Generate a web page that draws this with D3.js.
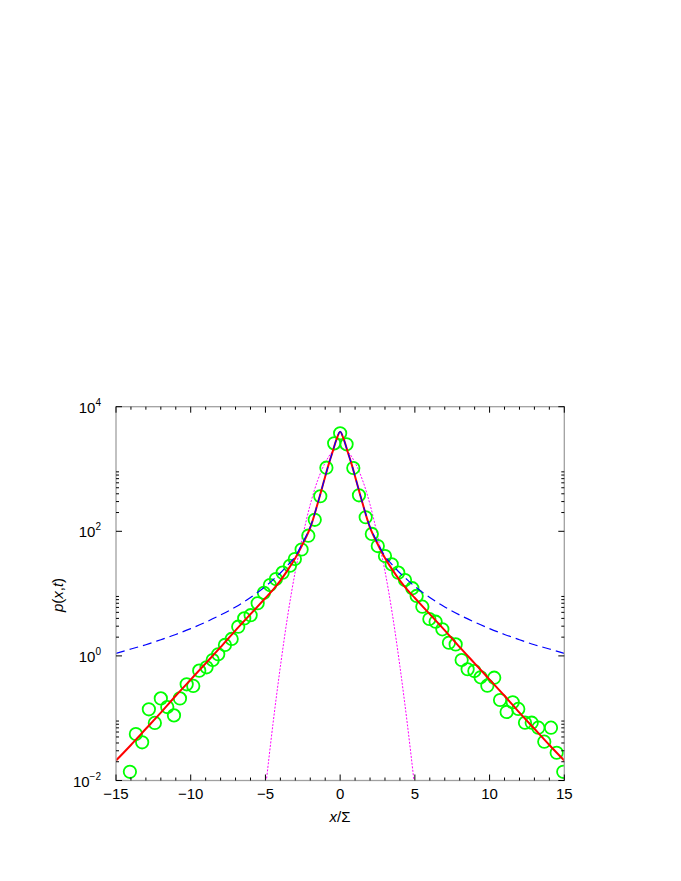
<!DOCTYPE html>
<html>
<head>
<meta charset="utf-8">
<script src="https://cdn.jsdelivr.net/npm/d3@7"></script>
<style>
html,body{margin:0;padding:0;background:#fff;}
svg{display:block;font-family:"Liberation Sans",Arial,Helvetica,sans-serif;}
</style>
</head>
<body>
<svg id="chart" width="681" height="881"></svg>
<script>
// ---- data ----
const xTicks = [-15, -10, -5, 0, 5, 10, 15];
const xTickLabels = ["\u221215", "\u221210", "\u22125", "0", "5", "10", "15"];
const yMajorExps = [-2, 0, 2, 4];
const yMinorDecades = [-2, 0, 2];

// green circles: simulation data
const dataX = [-14.07,-13.67,-13.25,-12.80,-12.40,-12.00,-11.57,-11.12,-10.72,-10.27,-9.83,-9.43,-8.94,-8.53,-8.16,-7.71,-7.26,-6.82,-6.42,-5.99,-5.52,-5.10,-4.70,-4.30,-3.85,-3.36,-3.03,-2.58,-2.13,-1.70,-1.33,-0.92,-0.40,0.00,0.43,0.88,1.26,1.71,2.12,2.52,3.00,3.45,3.89,4.34,4.83,5.12,5.50,5.97,6.39,6.84,7.28,7.73,8.13,8.53,8.98,9.40,9.85,10.31,10.70,11.14,11.55,11.92,12.37,12.82,13.26,13.66,14.11,14.49,14.93];
const dataP = [0.0138,0.0557,0.041,0.139,0.084,0.208,0.151,0.111,0.208,0.35,0.33,0.58,0.656,0.86,1.06,1.50,1.87,2.94,4.0,4.5,7.0,10.3,13.7,17.1,21.7,28,35.9,51,85,153,365,1050,2580,3740,2490,1037,378,168,90.6,58,40.1,29.5,21.7,16.5,12.2,9.16,6.17,3.91,3.54,2.67,1.63,1.53,0.86,0.61,0.571,0.453,0.333,0.447,0.196,0.126,0.18,0.141,0.0847,0.0847,0.0705,0.042,0.0705,0.0279,0.0138];

// red solid & blue dashed curves share the same abscissae
const curveX = [-15,-14,-13,-12,-11,-10,-9,-8,-7,-6,-5,-4.5,-4,-3.5,-3,-2.5,-2,-1.5,-1,-0.75,-0.5,-0.25,0,0.25,0.5,0.75,1,1.5,2,2.5,3,3.5,4,4.5,5,6,7,8,9,10,11,12,13,14,15];
const redP = [0.0209,0.0372,0.0676,0.123,0.229,0.417,0.759,1.38,2.57,4.68,8.51,11.5,16.2,24.0,37.2,63.1,115,282,759,1230,1905,2950,3980,2950,1905,1230,759,282,115,63.1,37.2,24.0,16.2,11.5,8.51,4.68,2.57,1.38,0.759,0.417,0.229,0.123,0.0676,0.0372,0.0209];
const blueP = [1.10,1.29,1.51,1.82,2.21,2.74,3.48,4.53,6.11,8.65,13.0,16.6,21.4,28.8,39.8,66.1,117,282,759,1230,1905,2950,3980,2950,1905,1230,759,282,117,66.1,39.8,28.8,21.4,16.6,13.0,8.65,6.11,4.53,3.48,2.74,2.21,1.82,1.51,1.29,1.10];

// magenta dotted gaussian
const gaussX = [-5,-4.5,-4,-3.5,-3,-2.5,-2,-1.5,-1,-0.5,0,0.5,1,1.5,2,2.5,3,3.5,4,4.5,5];
const gaussP = [0.00741,0.0794,0.676,4.57,22.9,85.1,269,661,1259,1905,2190,1905,1259,661,269,85.1,22.9,4.57,0.676,0.0794,0.00741];

// ---- drawing ----
const svg = d3.select("#chart");
const L = 116, R = 564.3, T = 406.7, B = 780.5;
const x = d3.scaleLinear().domain([-15, 15]).range([L, R]);
const y = d3.scaleLog().domain([1e-2, 1e4]).range([B, T]);

svg.append("defs").append("clipPath").attr("id", "clip")
  .append("rect").attr("x", L).attr("y", T).attr("width", R - L).attr("height", B - T);

const plot = svg.append("g").attr("clip-path", "url(#clip)");

const toPts = (xs, ps) => xs.map((v, i) => [v, ps[i]]);
const line = d3.line().x(d => x(d[0])).y(d => y(d[1])).curve(d3.curveCatmullRom.alpha(0.5));

// gaussian (magenta dotted)
plot.append("path").datum(toPts(gaussX, gaussP))
  .attr("d", line).attr("fill", "none")
  .attr("stroke", "#ff00ff").attr("stroke-width", 1).attr("stroke-dasharray", "2,1.5");

// circles
plot.selectAll("circle.d").data(toPts(dataX, dataP)).join("circle")
  .attr("class", "d")
  .attr("cx", d => x(d[0])).attr("cy", d => y(d[1])).attr("r", 6.2)
  .attr("fill", "none").attr("stroke", "#00ff00").attr("stroke-width", 1.8);

// red solid
plot.append("path").datum(toPts(curveX, redP))
  .attr("d", line).attr("fill", "none")
  .attr("stroke", "#ff0000").attr("stroke-width", 2);

// blue dashed
plot.append("path").datum(toPts(curveX, blueP))
  .attr("d", line).attr("fill", "none")
  .attr("stroke", "#0000ff").attr("stroke-width", 1.2).attr("stroke-dasharray", "9,5");

// frame
svg.append("rect").attr("x", L).attr("y", T).attr("width", R - L).attr("height", B - T)
  .attr("fill", "none").attr("stroke", "#a0a0a0").attr("stroke-width", 1.3);

// ticks
const tickG = svg.append("g").attr("stroke", "#000").attr("stroke-width", 1);
const xMinor = d3.range(-15, 16, 1);
xMinor.forEach(v => {
  const len = (v % 5 === 0) ? 6 : 3;
  const px = x(v);
  tickG.append("line").attr("x1", px).attr("x2", px).attr("y1", B).attr("y2", B - len);
  tickG.append("line").attr("x1", px).attr("x2", px).attr("y1", T).attr("y2", T + len);
});
yMajorExps.forEach(e => {
  const py = y(Math.pow(10, e));
  tickG.append("line").attr("x1", L).attr("x2", L + 6).attr("y1", py).attr("y2", py);
  tickG.append("line").attr("x1", R).attr("x2", R - 6).attr("y1", py).attr("y2", py);
});
yMinorDecades.forEach(e => {
  for (let k = 2; k <= 9; k++) {
    const py = y(k * Math.pow(10, e));
    tickG.append("line").attr("x1", L).attr("x2", L + 3).attr("y1", py).attr("y2", py);
    tickG.append("line").attr("x1", R).attr("x2", R - 3).attr("y1", py).attr("y2", py);
  }
});

// x tick labels
svg.append("g").selectAll("text").data(xTicks).join("text")
  .attr("x", d => x(d)).attr("y", 799)
  .attr("text-anchor", "middle").attr("font-size", 15).attr("fill", "#000")
  .text((d, i) => xTickLabels[i]);

// y tick labels
yMajorExps.forEach(e => {
  const t = svg.append("text").attr("x", 101).attr("y", y(Math.pow(10, e)) + 6)
    .attr("text-anchor", "end").attr("font-size", 15).attr("fill", "#000");
  t.append("tspan").text("10");
  t.append("tspan").attr("dy", -7).attr("font-size", 10).text(e < 0 ? "\u2212" + (-e) : String(e));
});

// axis titles
const xt = svg.append("text").attr("x", 340).attr("y", 822).attr("text-anchor", "middle")
  .attr("font-size", 15).attr("fill", "#000");
xt.append("tspan").attr("font-style", "italic").text("x");
xt.append("tspan").text("/\u03A3");

const yt = svg.append("text").attr("transform", "translate(63,595) rotate(-90)")
  .attr("text-anchor", "middle").attr("font-size", 15).attr("fill", "#000");
yt.append("tspan").attr("font-style", "italic").text("p");
yt.append("tspan").text("(");
yt.append("tspan").attr("font-style", "italic").text("x");
yt.append("tspan").text(",");
yt.append("tspan").attr("font-style", "italic").text("t");
yt.append("tspan").text(")");
</script>
</body>
</html>
